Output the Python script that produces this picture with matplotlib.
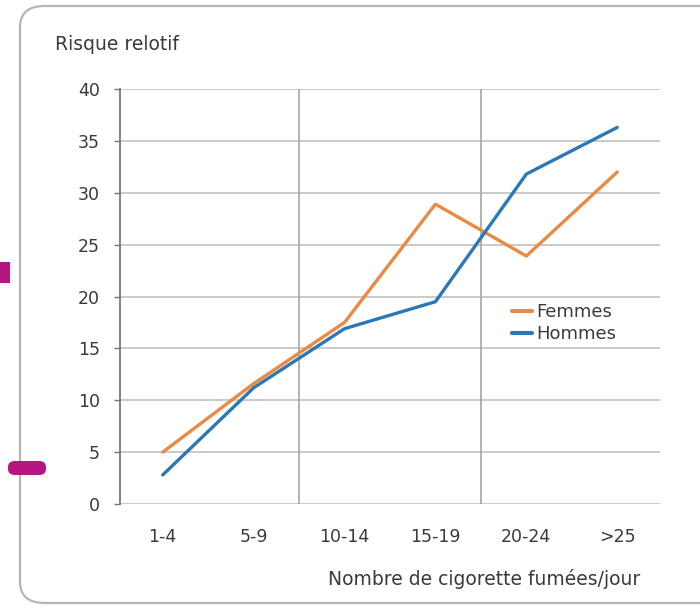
import matplotlib
matplotlib.use("Agg")
import matplotlib.pyplot as plt
from matplotlib.patches import FancyBboxPatch

plt.rcParams.update({
    "font.family": ["DejaVu Sans"],
})

# data
categories = ["1-4", "5-9", "10-14", "15-19", "20-24", ">25"]
femmes = [5.0, 11.6, 17.5, 28.9, 23.9, 32.0]
hommes = [2.8, 11.2, 16.9, 19.5, 31.8, 36.3]
y_ticks = [0, 5, 10, 15, 20, 25, 30, 35, 40]

ORANGE = "#E98A45"
BLUE = "#2A79B6"
GRID = "#CACACA"
TXT = "#3a3a3a"

fig = plt.figure(figsize=(7, 6.08), dpi=100)

# rounded outer frame of the scanned figure (right edge runs off the image)
frame = FancyBboxPatch((20 / 700, 5 / 608), 760 / 700, 597 / 608,
                       boxstyle="round,pad=0,rounding_size=0.035",
                       transform=fig.transFigure, fc="none", ec="#b5b5b5", lw=1.6)
fig.patches.append(frame)

# magenta marks on the left edge of the scan
fig.patches.append(plt.Rectangle((0, (608 - 283) / 608), 10 / 700, 21 / 608,
                                 transform=fig.transFigure, fc="#B5167F", ec="none"))
fig.patches.append(FancyBboxPatch((8 / 700, (608 - 475) / 608), 38 / 700, 14 / 608,
                                  boxstyle="round,pad=0,rounding_size=0.01",
                                  transform=fig.transFigure, fc="#B5167F", ec="none"))

ax = fig.add_axes([120 / 700, 104 / 608, 540 / 700, 415 / 608])
x = list(range(len(categories)))

for yv in y_ticks:
    ax.axhline(yv, color=GRID, lw=1.4, zorder=0)
for xv in (1.5, 3.5):
    ax.axvline(xv, color="#a5a5a5", lw=1.2, zorder=0)

ax.plot(x, femmes, color=ORANGE, lw=2.4, label="Femmes", solid_capstyle="round")
ax.plot(x, hommes, color=BLUE, lw=2.4, label="Hommes", solid_capstyle="round")

ax.set_xlim(-0.47, 5.47)
ax.set_ylim(0, 40)
ax.set_xticks(x)
ax.set_xticklabels(categories)
ax.set_yticks(y_ticks)
ax.tick_params(axis="x", length=0, pad=17, labelsize=12.5, labelcolor=TXT)
ax.tick_params(axis="y", length=4.5, width=1, color="#777777", pad=10,
               labelsize=12.5, labelcolor=TXT)

for s in ("top", "right", "bottom"):
    ax.spines[s].set_visible(False)
ax.spines["left"].set_color("#777777")
ax.spines["left"].set_linewidth(1.3)

ax.set_xlabel("Nombre de cigorette fumées/jour", fontsize=13.5, color=TXT,
              labelpad=17, x=0.674)
fig.text(55 / 700, (608 - 45) / 608, "Risque relotif", fontsize=13.5, color=TXT,
         va="center", ha="left")

leg = ax.legend(loc="upper left", bbox_to_anchor=(0.71, 0.505), frameon=False,
                handlelength=1.1, handletextpad=0.2, labelspacing=0.2,
                fontsize=13, labelcolor=TXT, borderpad=0)
for line in leg.get_lines():
    line.set_linewidth(3)

fig.savefig("out.png", dpi=100, facecolor="white")
